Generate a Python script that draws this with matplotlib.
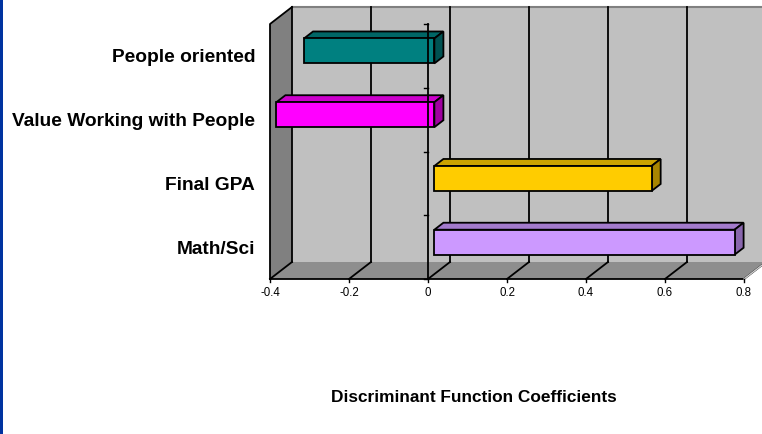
import matplotlib
matplotlib.use("Agg")
import matplotlib.pyplot as plt
from matplotlib.patches import Polygon, Rectangle

# Discriminant function coefficients, listed bottom to top
categories = ["Math/Sci", "Final GPA", "Value Working with People", "People oriented"]
coefficients = [0.76, 0.55, -0.40, -0.33]
face_colors = ["#CC99FF", "#FFCC00", "#FF00FF", "#008080"]
top_colors = ["#A37ACC", "#CCA300", "#CC00CC", "#006666"]
side_colors = ["#8966AD", "#A88500", "#A000A0", "#005252"]
x_ticks = [-0.4, -0.2, 0, 0.2, 0.4, 0.6, 0.8]
x_tick_labels = ["-0.4", "-0.2", "0", "0.2", "0.4", "0.6", "0.8"]
title = "Discriminant Function Coefficients"

W, H, DPI = 762, 434, 100
fig = plt.figure(figsize=(W / DPI, H / DPI), dpi=DPI)
ax = fig.add_axes([0, 0, 1, 1])
ax.set_axis_off()

# pixel scale of the front plane of the 3-D box
SX = 395.0      # px per unit of value
SY = 63.75      # px per category band
X0_PX = 270.0   # left edge of the front plane (value -0.4)
Y0_PX = 279.0   # bottom edge of the front plane (from top)
xmin_v, xmax_v = x_ticks[0], x_ticks[-1]
ncat = len(categories)

ax.set_xlim(xmin_v - X0_PX / SX, xmin_v + (W - X0_PX) / SX)
ax.set_ylim(-(H - Y0_PX) / SY, Y0_PX / SY)

# full depth of the box, in data units
DX = 22.0 / SX
DY = 17.0 / SY


def d(x, y, f):
    """Shift a point backwards by depth fraction f."""
    return (x + f * DX, y + f * DY)


def poly(pts, fc, ec="none", lw=0.0, z=1):
    ax.add_patch(Polygon(pts, closed=True, facecolor=fc, edgecolor=ec,
                         linewidth=lw, zorder=z, joinstyle="miter"))


# back wall
poly([d(xmin_v, 0, 1), d(xmax_v, 0, 1), d(xmax_v, ncat, 1), d(xmin_v, ncat, 1)],
     "#C0C0C0", z=1)
ax.plot(*zip(d(xmin_v, ncat, 1), d(xmax_v, ncat, 1)), color="#808080", lw=1.5, zorder=2)
# left wall
poly([d(xmin_v, 0, 0), d(xmin_v, 0, 1), d(xmin_v, ncat, 1), d(xmin_v, ncat, 0)],
     "#808080", z=1)
# floor
poly([d(xmin_v, 0, 0), d(xmax_v, 0, 0), d(xmax_v, 0, 1), d(xmin_v, 0, 1)],
     "#8E8E8E", z=1)

# gridlines on the back wall and across the floor
for xv in x_ticks:
    ax.plot(*zip(d(xv, 0, 1), d(xv, ncat, 1)), color="black", lw=1.3, zorder=2)
    ax.plot(*zip(d(xv, 0, 0), d(xv, 0, 1)), color="black", lw=1.3, zorder=2)

# left wall outline and floor front edge
ax.plot(*zip(d(xmin_v, 0, 0), d(xmin_v, ncat, 0), d(xmin_v, ncat, 1)),
        color="black", lw=1.3, zorder=2)
ax.plot(*zip(d(xmin_v, 0, 0), d(xmax_v, 0, 0)), color="black", lw=1.3, zorder=2)
ax.plot(*zip(d(xmax_v, 0, 0), d(xmax_v, 0, 1)), color="#D0D0D0", lw=1.0, zorder=2)

# 3-D bars
F0, F1 = 0.29, 0.70
HALF = 0.196
for i, v in enumerate(coefficients):
    yc = i + 0.5
    lo, hi = min(0, v), max(0, v)
    yb, yt = yc - HALF, yc + HALF
    # top face
    poly([d(lo, yt, F0), d(hi, yt, F0), d(hi, yt, F1), d(lo, yt, F1)],
         top_colors[i], "black", 1.3, z=3)
    # right side face
    poly([d(hi, yb, F0), d(hi, yt, F0), d(hi, yt, F1), d(hi, yb, F1)],
         side_colors[i], "black", 1.3, z=3)
    # front face
    poly([d(lo, yb, F0), d(hi, yb, F0), d(hi, yt, F0), d(lo, yt, F0)],
         face_colors[i], "black", 1.3, z=4)

# category axis at zero with band ticks
ax.plot([0, 0], [0, ncat], color="black", lw=1.3, zorder=5)
tick_len = 4.0 / SX
for k in range(ncat + 1):
    ax.plot([-tick_len, 0], [k, k], color="black", lw=1.0, zorder=5)
# value-axis ticks below the floor
for xv in x_ticks:
    ax.plot([xv, xv], [0, -3.0 / SY], color="black", lw=1.0, zorder=5)

# labels
label_font = ["Liberation Sans", "DejaVu Sans"]
for i, name in enumerate(categories):
    ax.text(xmin_v - 15.0 / SX, i + 0.5 - 2.0 / SY, name, ha="right", va="center",
            fontsize=13.8, fontweight="bold", family=label_font)
for xv, lab in zip(x_ticks, x_tick_labels):
    ax.text(xv, -14.0 / SY, lab, ha="center", va="center",
            fontsize=8.3, family=label_font)
ax.text(xmin_v + (474 - X0_PX) / SX, -(398 - Y0_PX) / SY, title,
        ha="center", va="center", fontsize=12.4, fontweight="bold", family=label_font)

# blue frame edge on the left
fig.patches.append(Rectangle((0, 0), 2.5 / W, 1, transform=fig.transFigure,
                             facecolor="#0033A0", edgecolor="none"))

fig.savefig("out.png", dpi=DPI)
